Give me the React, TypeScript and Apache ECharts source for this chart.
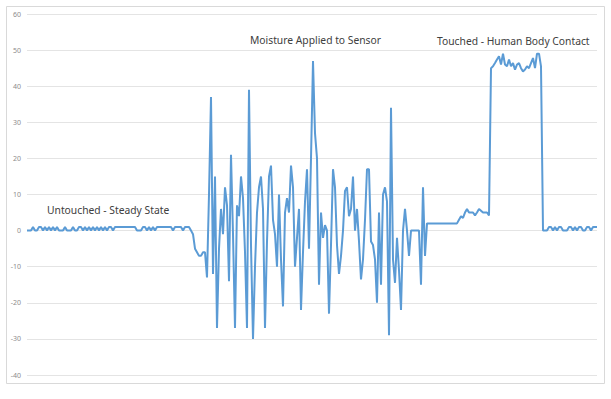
import React, { useEffect, useRef } from "react";
import * as echarts from "echarts";

// Sensor reading, one sample per step, three phases in sequence
const steadyState: number[] = [
  0, 0, 0, 1, 0, 0, 1, 1, 0, 1,
  0, 1, 0, 1, 0, 1, 0, 0, 0, 1,
  0, 0, 0, 1, 0, 0, 1, 1, 0, 1,
  0, 1, 0, 1, 0, 1, 0, 1, 0, 1,
  0, 1, 1, 0, 1, 1, 1, 1, 1, 1,
  1, 1, 1, 1, 1, 0, 0, 0, 1, 1,
  0, 1, 0, 1, 0, 1, 1, 1, 1, 1,
  1, 1, 1, 0, 1, 1, 1, 1, 0, 1,
  1, 1, 0, -1,
];

const moisture: number[] = [
  -5, -6, -7, -7, -6, -6, -13, 10, 37, -12,
  15, -27, -5, 6, -1, 12, 7, -14, 21, -1,
  -27, 7, 4, 15, 9, -6, -27, 39, -4, -30,
  -10, 5, 12, 15, 6, -27, -3, 15, 18, 3,
  -1, -10, 10, -8, -21, 5, 9, 5, 18, 12,
  -10, -2, 6, -22, -6, 8, 17, -5, 20, 47,
  27, 20, -15, 5, -2, 1.5, 0, -23, -4, 17,
  12, -4, -12, -7, 0, 11, 12, 4, 6, 15,
  0, 6, -3, -13.5, -8, 3, 17, 17, -3, -4,
  -8, -20, 5, -15, 10, 12, 8, -29, 34, -8,
  -14.5, -2, -11, -22, 0, 6, 0, -7, 0, 0,
  0, 0, 0, -15, 12, -7,
];

const touched: number[] = [
  2, 2, 2, 2, 2, 2, 2, 2, 2, 2, 2, 2, 2, 2, 2, 2,
  3, 4, 3.5, 5, 6, 5, 5, 5, 4.2, 5, 6, 5.5, 5, 5, 5, 4.2,
  45, 45.5, 46.4, 47.4, 48.3, 46, 49, 46, 45.5, 47.4,
  45.5, 46.4, 44.6, 46, 46.4, 45, 44.1, 44.6, 45.5, 45,
  46.4, 47.8, 45, 49, 49, 45.5,
  0, 0, 0, 1, 1, 0, 1, 0, 1, 1, 0, 0, 0, 1, 1, 0, 1, 0, 1, 1,
  0, 0, 1, 1, 0, 1, 1, 1,
];

const yTicks = { min: -40, max: 60, step: 10 };

const annotations = [
  { text: "Untouched - Steady State", x: 47, y: 210 },
  { text: "Moisture Applied to Sensor", x: 250, y: 40 },
  { text: "Touched - Human Body Contact", x: 437, y: 41 },
];

const readings = [...steadyState, ...moisture, ...touched];
const samples = readings.map((_, i) => String(i + 1));

export default function App() {
  const ref = useRef<HTMLDivElement>(null);
  useEffect(() => {
    if (!ref.current) return;
    const chart = echarts.init(ref.current, undefined, { renderer: "svg" });
    chart.setOption({
      animation: false,
      backgroundColor: "#ffffff",
      grid: { left: 27, right: 14, top: 14, bottom: 24 },
      xAxis: {
        type: "category",
        data: samples,
        boundaryGap: false,
        axisLine: { show: false },
        axisTick: { show: false },
        axisLabel: { show: false },
        splitLine: { show: false },
      },
      yAxis: {
        type: "value",
        min: yTicks.min,
        max: yTicks.max,
        interval: yTicks.step,
        axisLine: { show: false },
        axisTick: { show: false },
        axisLabel: {
          fontSize: 7,
          color: "#8c8c8c",
          margin: 6,
          fontFamily: "Noto Sans",
        },
        splitLine: { lineStyle: { color: "#e4e4e4", width: 1 } },
      },
      series: [
        {
          type: "line",
          data: readings,
          showSymbol: false,
          symbol: "none",
          lineStyle: { color: "#5b9bd5", width: 2 },
          z: 3,
        },
      ],
      graphic: [
        {
          type: "rect",
          shape: { x: 6.5, y: 6.5, width: 598, height: 377 },
          style: { fill: "none", stroke: "#d9d9d9", lineWidth: 1 },
          silent: true,
          z: 0,
        },
        ...annotations.map((a) => ({
          type: "text",
          x: a.x,
          y: a.y,
          style: {
            text: a.text,
            fill: "#404040",
            fontSize: 10.3,
            fontFamily: "Noto Sans",
            textVerticalAlign: "middle",
          },
          z: 10,
        })),
      ],
    });
    return () => chart.dispose();
  }, []);
  return (
    <div
      ref={ref}
      style={{ position: "fixed", left: 0, top: 0, width: 611, height: 399, background: "#fff" }}
    />
  );
}
